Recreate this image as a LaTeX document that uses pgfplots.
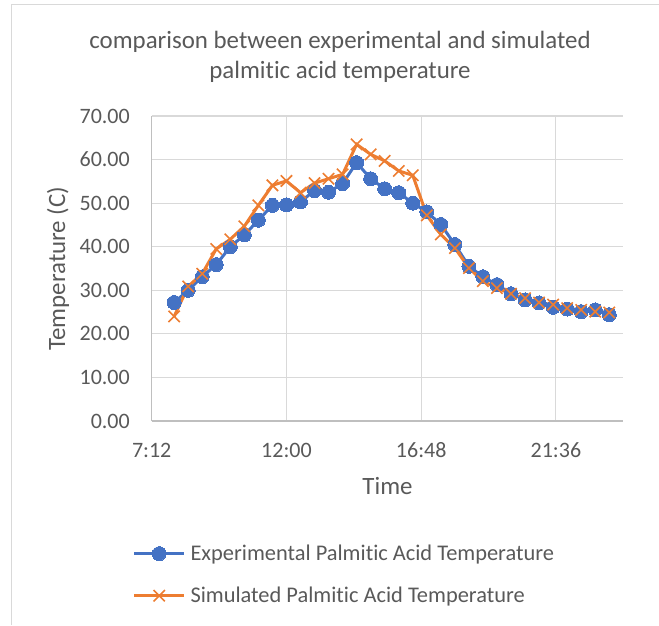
\documentclass[border=0pt]{standalone}
\usepackage{fontspec}
\setmainfont{Carlito}[RawFeature={-liga;-clig;-calt;-dlig}]
\usepackage{pgfplots}
\pgfplotsset{compat=1.18}
\definecolor{xlblue}{HTML}{4472C4}
\definecolor{xlorange}{HTML}{ED7D31}
\definecolor{gridgray}{HTML}{D9D9D9}
\definecolor{axisgray}{HTML}{BFBFBF}
\definecolor{textgray}{HTML}{595959}
\begin{document}
\begin{tikzpicture}[every node/.append style={text=textgray}]
\useasboundingbox (0,0) rectangle (659pt,625pt);
\draw[gridgray, line width=1pt] (11pt,0pt) -- (11pt,620pt) -- (659pt,620pt);
\node[anchor=base, font=\fontsize{24.9}{30}\selectfont] at (340pt,576.7pt) {comparison between experimental and simulated};
\node[anchor=base, font=\fontsize{24.9}{30}\selectfont] at (340pt,546.7pt) {palmitic acid temperature};
\begin{axis}[
  scale only axis,
  width=471.6pt, height=305pt,
  at={(151.7pt,204pt)}, anchor=south west,
  xmin=7.2, xmax=24, ymin=0, ymax=70,
  axis x line=bottom, axis y line=left,
  axis line style={-, axisgray, line width=1.3pt},
  xtick={7.2,12,16.8,21.6},
  xticklabels={7:12,12:00,16:48,21:36},
  ytick={0,10,20,30,40,50,60,70},
  major tick length=0pt,
  grid=major,
  major grid style={gridgray, line width=1.1pt},
  tick label style={font=\fontsize{22}{26}\selectfont},
  xticklabel style={anchor=base, inner sep=0pt, yshift=-36.3pt},
  yticklabel style={anchor=east, inner sep=0pt, xshift=-21.7pt,
    /pgf/number format/.cd, fixed, fixed zerofill, precision=2, assume math mode=true},
  xlabel={Time},
  ylabel={Temperature (C)},
  label style={font=\fontsize{24.9}{30}\selectfont},
  xlabel style={at={(axis description cs:0.5,-0.2426)}, anchor=base, inner sep=0pt},
  ylabel style={at={(axis description cs:-0.1838,0.5)}, anchor=base, inner sep=0pt},
  legend style={draw=none, fill=none, at={(axis description cs:-0.0411,-0.5038)}, anchor=west,
    inner sep=0pt, row sep=25pt, column sep=4.6pt, font=\fontsize{22.4}{26}\selectfont,
    nodes={inner sep=0pt}},
  legend cell align=left,
  legend image code/.code={\draw[mark repeat=2, mark phase=2, #1] plot coordinates {(0pt,0pt) (25.2pt,0pt) (50.4pt,0pt)};},
  clip=false
]
\addplot[xlblue, line width=3pt, mark=*, mark size=7pt, mark options={fill=xlblue, draw=xlblue, line width=0pt}] coordinates {
(8.0,27.2) (8.5,30.0) (9.0,33.1) (9.5,35.9) (10.0,40.0) (10.5,42.7) (11.0,46.1) (11.5,49.5)
(12.0,49.6) (12.5,50.3) (13.0,52.9) (13.5,52.5) (14.0,54.5) (14.5,59.3) (15.0,55.6) (15.5,53.3)
(16.0,52.4) (16.5,50.0) (17.0,48.0) (17.5,45.1) (18.0,40.5) (18.5,35.5) (19.0,33.1) (19.5,31.3)
(20.0,29.2) (20.5,27.8) (21.0,27.1) (21.5,26.1) (22.0,25.7) (22.5,25.1) (23.0,25.5) (23.5,24.4)
};
\addlegendentry{Experimental Palmitic Acid Temperature}
\addplot[xlorange, line width=3pt, mark=x, mark size=8pt, mark options={line width=1.6pt}] coordinates {
(8.0,24.0) (8.5,30.9) (9.0,33.8) (9.5,39.5) (10.0,41.7) (10.5,44.7) (11.0,49.5) (11.5,54.1)
(12.0,55.1) (12.5,52.4) (13.0,54.6) (13.5,55.6) (14.0,56.6) (14.5,63.5) (15.0,61.2) (15.5,59.7)
(16.0,57.4) (16.5,56.4) (17.0,47.2) (17.5,42.8) (18.0,39.7) (18.5,35.1) (19.0,32.1) (19.5,30.5)
(20.0,29.2) (20.5,28.2) (21.0,27.2) (21.5,26.7) (22.0,25.9) (22.5,25.5) (23.0,25.1) (23.5,24.9)
};
\addlegendentry{Simulated Palmitic Acid Temperature}
\end{axis}
\end{tikzpicture}
\end{document}
